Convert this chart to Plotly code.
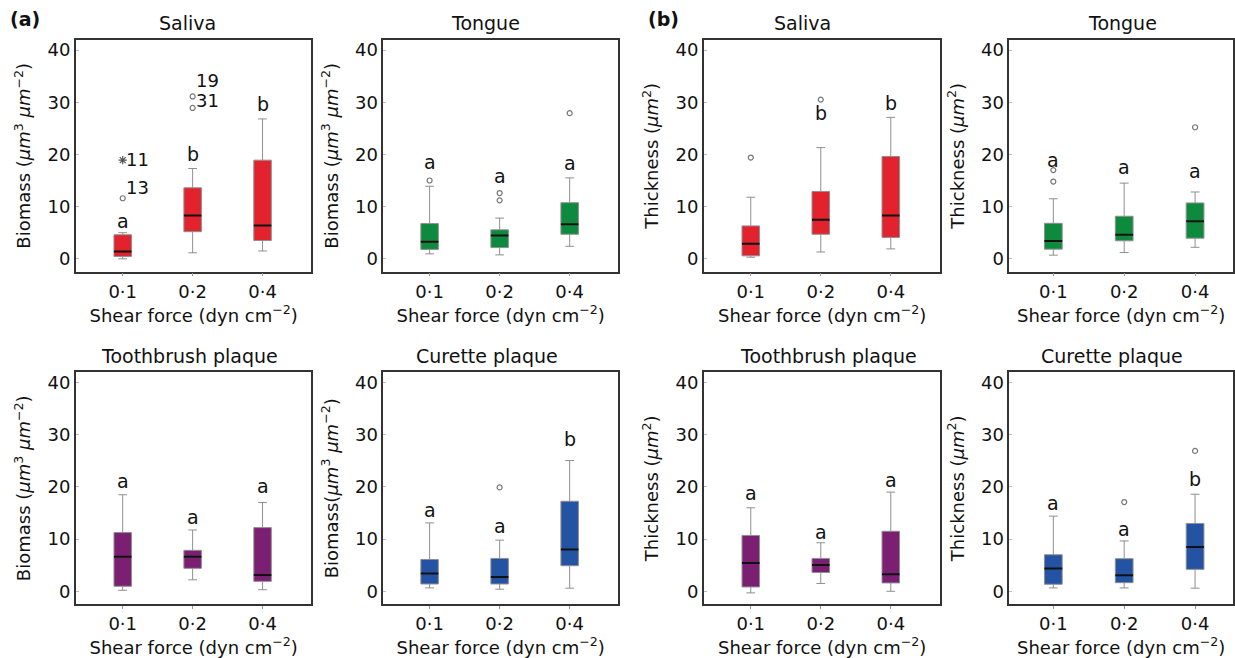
import plotly.graph_objects as go

categories = ["0·1", "0·2", "0·4"]

# [lower whisker, Q1, median, Q3, upper whisker] per shear force
biomass_saliva = [[0.0, 0.45, 1.4, 4.6, 5.0], [1.15, 5.2, 8.3, 13.6, 17.3], [1.5, 3.5, 6.4, 18.9, 26.8]]
biomass_tongue = [[0.95, 1.8, 3.25, 6.75, 13.9], [0.75, 2.15, 4.45, 5.55, 7.8], [2.4, 4.7, 6.6, 10.75, 15.5]]
thickness_saliva = [[0.3, 0.57, 2.9, 6.3, 11.8], [1.3, 4.7, 7.5, 12.9, 21.3], [1.9, 4.1, 8.3, 19.6, 27.1]]
thickness_tongue = [[0.7, 1.85, 3.4, 6.8, 11.5], [1.2, 3.45, 4.6, 8.15, 14.5], [2.2, 3.95, 7.2, 10.7, 12.8]]
biomass_toothbrush = [[0.2, 0.96, 6.6, 11.25, 18.5], [2.2, 4.4, 6.6, 7.85, 11.75], [0.3, 1.9, 3.1, 12.2, 17.0]]
biomass_curette = [[0.65, 1.4, 3.4, 6.1, 13.1], [0.4, 1.4, 2.75, 6.3, 9.8], [0.6, 4.9, 8.0, 17.25, 25.05]]
thickness_toothbrush = [[-0.3, 0.83, 5.4, 10.7, 16.0], [1.5, 3.6, 5.05, 6.3, 9.3], [0.0, 1.6, 3.25, 11.5, 19.0]]
thickness_curette = [[0.65, 1.35, 4.35, 7.0, 14.4], [0.65, 1.65, 3.05, 6.25, 9.65], [0.6, 4.2, 8.5, 13.0, 18.6]]

# outliers (circles) per shear force
biomass_saliva_out = [[11.6], [31.1, 28.9], []]
biomass_tongue_out = [[15.0], [12.6, 11.2], [27.9]]
thickness_saliva_out = [[19.4], [30.5], []]
thickness_tongue_out = [[17.0, 14.8], [], [25.2]]
biomass_toothbrush_out = [[], [], []]
biomass_curette_out = [[], [19.9], []]
thickness_toothbrush_out = [[], [], []]
thickness_curette_out = [[], [17.1], [26.9]]

# extreme values (asterisks)
biomass_saliva_extreme = [[18.9], [], []]

# case labels of saliva biomass outliers
saliva_case_text = ["11", "13", "19", "31"]
saliva_case_group = [0, 0, 1, 1]
saliva_case_y = [19.0, 13.6, 34.1, 30.4]

# significance letters and their heights
biomass_saliva_letters = ["a", "b", "b"]
biomass_saliva_letter_y = [7.3, 20.1, 29.7]
biomass_tongue_letters = ["a", "a", "a"]
biomass_tongue_letter_y = [18.5, 15.9, 18.3]
thickness_saliva_letters = ["", "b", "b"]
thickness_saliva_letter_y = [0, 28.0, 29.9]
thickness_tongue_letters = ["a", "a", "a"]
thickness_tongue_letter_y = [18.9, 17.5, 16.75]
biomass_toothbrush_letters = ["a", "a", "a"]
biomass_toothbrush_letter_y = [21.1, 14.25, 20.2]
biomass_curette_letters = ["a", "a", "b"]
biomass_curette_letter_y = [15.5, 12.6, 29.1]
thickness_toothbrush_letters = ["a", "a", "a"]
thickness_toothbrush_letter_y = [18.9, 11.4, 21.3]
thickness_curette_letters = ["a", "a", "b"]
thickness_curette_letter_y = [16.9, 12.0, 21.6]

RED, GREEN, PURPLE, BLUE = "#e2222c", "#0e8a3e", "#7a1f72", "#2453a3"
FONT = "DejaVu Sans"
W, H = 1235, 658

BIO = "Biomass (<i>μm</i><sup>3</sup> <i>μm</i><sup>−2</sup>)"
BIO2 = "Biomass(<i>μm</i><sup>3</sup> <i>μm</i><sup>−2</sup>)"
THK = "Thickness (<i>μm</i><sup>2</sup>)"
XT = "Shear force (dyn cm<sup>−2</sup>)"

panels = [
    dict(stats=biomass_saliva, out=biomass_saliva_out, letters=biomass_saliva_letters,
         ly=biomass_saliva_letter_y, color=RED, ytitle=BIO, title="Saliva", row=0, col=0, tx=188),
    dict(stats=biomass_tongue, out=biomass_tongue_out, letters=biomass_tongue_letters,
         ly=biomass_tongue_letter_y, color=GREEN, ytitle=BIO, title="Tongue", row=0, col=1, tx=486),
    dict(stats=thickness_saliva, out=thickness_saliva_out, letters=thickness_saliva_letters,
         ly=thickness_saliva_letter_y, color=RED, ytitle=THK, title="Saliva", row=0, col=2, tx=804),
    dict(stats=thickness_tongue, out=thickness_tongue_out, letters=thickness_tongue_letters,
         ly=thickness_tongue_letter_y, color=GREEN, ytitle=THK, title="Tongue", row=0, col=3, tx=1124),
    dict(stats=biomass_toothbrush, out=biomass_toothbrush_out, letters=biomass_toothbrush_letters,
         ly=biomass_toothbrush_letter_y, color=PURPLE, ytitle=BIO, title="Toothbrush plaque", row=1, col=0, tx=190),
    dict(stats=biomass_curette, out=biomass_curette_out, letters=biomass_curette_letters,
         ly=biomass_curette_letter_y, color=BLUE, ytitle=BIO2, title="Curette plaque", row=1, col=1, tx=488),
    dict(stats=thickness_toothbrush, out=thickness_toothbrush_out, letters=thickness_toothbrush_letters,
         ly=thickness_toothbrush_letter_y, color=PURPLE, ytitle=THK, title="Toothbrush plaque", row=1, col=2, tx=830),
    dict(stats=thickness_curette, out=thickness_curette_out, letters=thickness_curette_letters,
         ly=thickness_curette_letter_y, color=BLUE, ytitle=THK, title="Curette plaque", row=1, col=3, tx=1114),
]

col_px = [(76, 312), (384, 619), (705, 942), (1011, 1235)]
row_px = [(39, 271), (372, 604)]
title_y_px = [22, 356]
xranges = [[-0.67, 2.7], [-0.66, 2.69], [-0.67, 2.71], [-0.62, 2.535]]
yrange = [-2.45, 41.93]
BOXW = 0.25

fig = go.Figure()
layout = dict(width=W, height=H, margin=dict(l=0, r=0, t=0, b=0),
              paper_bgcolor="white", plot_bgcolor="white", showlegend=False,
              font=dict(family=FONT, size=18, color="#111"))
annotations = []
pos = list(range(len(categories)))

for k, p in enumerate(panels, start=1):
    xa, ya = f"x{k}", f"y{k}"
    st = p["stats"]
    fig.add_trace(go.Box(
        x=pos, lowerfence=[s[0] for s in st], q1=[s[1] for s in st], median=[s[2] for s in st],
        q3=[s[3] for s in st], upperfence=[s[4] for s in st],
        fillcolor=p["color"], line=dict(color="#8f8f8f", width=1), width=BOXW, whiskerwidth=0.5,
        boxpoints=False, xaxis=xa, yaxis=ya, hoverinfo="skip"))
    mx, my = [], []
    for i, s in enumerate(st):
        mx += [i - BOXW / 2, i + BOXW / 2, None]
        my += [s[2], s[2], None]
    fig.add_trace(go.Scatter(x=mx, y=my, mode="lines", line=dict(color="#111", width=2),
                             xaxis=xa, yaxis=ya, hoverinfo="skip"))
    ox, oy = [], []
    for i, vals in enumerate(p["out"]):
        ox += [i] * len(vals)
        oy += vals
    if ox:
        fig.add_trace(go.Scatter(x=ox, y=oy, mode="markers",
                                 marker=dict(symbol="circle-open", size=5, color="#777",
                                             line=dict(width=1.2, color="#777")),
                                 xaxis=xa, yaxis=ya, hoverinfo="skip"))
    if k == 1:
        ex, ey = [], []
        for i, vals in enumerate(biomass_saliva_extreme):
            ex += [i] * len(vals)
            ey += vals
        fig.add_trace(go.Scatter(x=ex, y=ey, mode="markers",
                                 marker=dict(symbol="asterisk-open", size=7, color="#555",
                                             line=dict(width=1.2, color="#555")),
                                 xaxis=xa, yaxis=ya, hoverinfo="skip"))
        for t, g, yv in zip(saliva_case_text, saliva_case_group, saliva_case_y):
            annotations.append(dict(x=g, y=yv, xref=xa, yref=ya, text=t, showarrow=False,
                                    xanchor="left", yanchor="middle", xshift=1,
                                    font=dict(size=18, family=FONT, color="#111")))
    for i, (lt, yv) in enumerate(zip(p["letters"], p["ly"])):
        if lt:
            annotations.append(dict(x=i, y=yv, xref=xa, yref=ya, text=lt, showarrow=False,
                                    xanchor="center", yanchor="middle",
                                    font=dict(size=19, family=FONT, color="#111")))
    x0, x1 = col_px[p["col"]]
    y0, y1 = row_px[p["row"]]
    layout[f"xaxis{k}"] = dict(domain=[x0 / W, min(x1 / W, 1.0)], anchor=ya, range=xranges[p["col"]],
                               tickvals=pos, ticktext=categories, ticks="outside", ticklen=3,
                               tickcolor="#999", showline=True, linecolor="#333", linewidth=1.6,
                               mirror=True, showgrid=False, zeroline=False,
                               tickfont=dict(size=18, family=FONT, color="#111"),
                               title=dict(text=XT, standoff=2, font=dict(size=18, family=FONT, color="#111")))
    layout[f"yaxis{k}"] = dict(domain=[1 - y1 / H, 1 - y0 / H], anchor=xa, range=yrange,
                               tickvals=[0, 10, 20, 30, 40], ticks="inside", ticklen=3,
                               tickcolor="#bbb", showline=True, linecolor="#333", linewidth=1.6,
                               mirror=True, showgrid=False, zeroline=False,
                               tickfont=dict(size=18, family=FONT, color="#111"),
                               title=dict(text=p["ytitle"], standoff=12,
                                          font=dict(size=18, family=FONT, color="#111")))
    annotations.append(dict(x=p["tx"] / W, y=1 - title_y_px[p["row"]] / H, xref="paper", yref="paper",
                            text=p["title"], showarrow=False, xanchor="center", yanchor="middle",
                            font=dict(size=19, family=FONT, color="#111")))

annotations.append(dict(x=8 / W, y=1 - 18 / H, xref="paper", yref="paper", text="<b>(a)</b>",
                        showarrow=False, xanchor="left", yanchor="middle",
                        font=dict(size=19, family=FONT, color="#111")))
annotations.append(dict(x=647 / W, y=1 - 18 / H, xref="paper", yref="paper", text="<b>(b)</b>",
                        showarrow=False, xanchor="left", yanchor="middle",
                        font=dict(size=19, family=FONT, color="#111")))

layout["annotations"] = annotations
fig.update_layout(**layout)
fig.write_html("out.html", config={"displayModeBar": False},
               post_script="document.body.style.margin='0px';document.body.style.overflow='hidden';")
